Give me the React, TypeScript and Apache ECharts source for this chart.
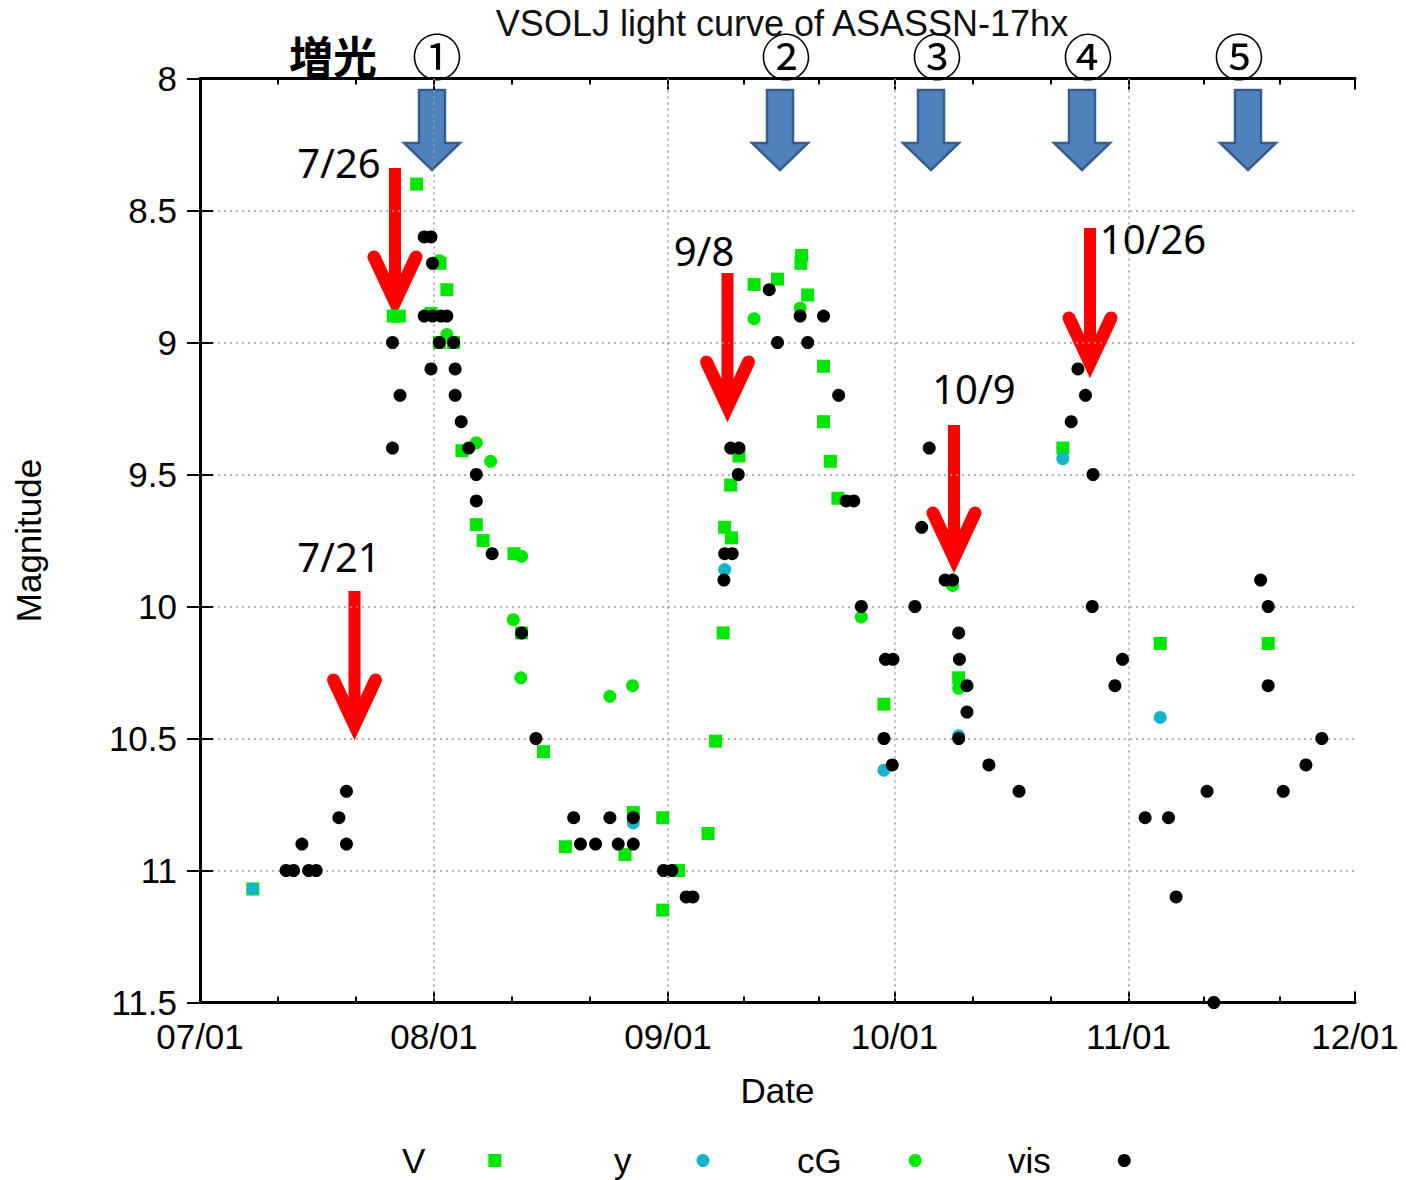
import React, { useEffect, useRef } from 'react';
import * as echarts from 'echarts';

// x values are days since 2017-07-01 00:00, y values are magnitudes
const monthTicks = [0, 31, 62, 92, 123, 153];
const monthLabels = ['07/01', '08/01', '09/01', '10/01', '11/01', '12/01'];
const minorTicks = [10.33, 20.67, 41.33, 51.67, 72, 82, 102.33, 112.67, 133, 143];
const yTicks = [8, 8.5, 9, 9.5, 10, 10.5, 11, 11.5];

const seriesNames = ['V', 'y', 'cG', 'vis'];

const vData: number[][] = [
  [7.0, 11.07], [25.6, 8.9], [26.4, 8.9], [28.7, 8.4], [30.6, 8.89], [31.8, 8.7],
  [32.7, 8.8], [31.7, 9.0], [33.6, 9.0], [34.7, 9.41], [36.6, 9.69], [37.5, 9.75],
  [41.6, 9.8], [42.6, 10.1], [45.5, 10.55], [48.4, 10.91], [56.3, 10.94], [57.4, 10.78],
  [61.3, 10.8], [61.3, 11.15], [63.4, 11.0], [67.3, 10.86], [68.3, 10.51], [69.3, 10.1],
  [69.5, 9.7], [70.4, 9.74], [70.3, 9.54], [71.4, 9.43], [73.4, 8.78], [76.5, 8.76],
  [79.6, 8.7], [79.7, 8.67], [80.5, 8.82], [82.6, 9.09], [82.6, 9.3], [83.5, 9.45],
  [84.5, 9.59], [90.6, 10.37], [100.5, 10.27], [114.3, 9.4], [127.2, 10.14], [141.5, 10.14],
];

const yData: number[][] = [
  [7.0, 11.07], [69.5, 9.86], [57.4, 10.82], [90.6, 10.62], [100.5, 10.49], [114.3, 9.44], [127.2, 10.42],
];

const cgData: number[][] = [
  [31.7, 8.69], [32.7, 8.97], [36.6, 9.38], [38.5, 9.45], [42.6, 9.81], [41.5, 10.05],
  [42.5, 10.27], [54.3, 10.34], [57.3, 10.3], [73.4, 8.91], [79.5, 8.87], [87.6, 10.04],
  [99.7, 9.92], [100.5, 10.31],
];

const visData: number[][] = [
  [11.4, 11.0], [12.4, 11.0], [14.4, 11.0], [15.4, 11.0], [13.5, 10.9], [18.4, 10.8],
  [19.4, 10.7], [19.4, 10.9], [25.5, 9.0], [25.5, 9.4], [26.5, 9.2], [29.7, 8.6],
  [30.6, 8.6], [30.8, 8.7], [29.7, 8.9], [30.8, 8.9], [31.9, 8.9], [32.7, 8.9],
  [31.7, 9.0], [33.6, 9.0], [30.6, 9.1], [33.8, 9.1], [33.8, 9.2], [34.6, 9.3],
  [35.6, 9.4], [36.6, 9.5], [36.6, 9.6], [38.7, 9.8], [42.6, 10.1], [44.5, 10.5],
  [49.5, 10.8], [50.4, 10.9], [52.4, 10.9], [54.3, 10.8], [55.4, 10.9], [57.4, 10.8],
  [57.4, 10.9], [61.4, 11.0], [62.5, 11.0], [64.4, 11.1], [65.3, 11.1], [69.4, 9.9],
  [69.5, 9.8], [70.5, 9.8], [71.3, 9.5], [70.3, 9.4], [71.4, 9.4], [75.4, 8.8],
  [76.5, 9.0], [79.5, 8.9], [80.5, 9.0], [82.6, 8.9], [84.6, 9.2], [85.6, 9.6],
  [86.6, 9.6], [87.6, 10.0], [90.8, 10.2], [91.8, 10.2], [90.6, 10.5], [91.7, 10.6],
  [94.7, 10.0], [95.6, 9.7], [96.6, 9.4], [98.7, 9.9], [99.7, 9.9], [100.5, 10.1],
  [100.6, 10.2], [101.6, 10.3], [101.6, 10.4], [100.5, 10.5], [104.5, 10.6], [108.5, 10.7],
  [115.4, 9.3], [116.3, 9.1], [117.3, 9.2], [118.3, 9.5], [118.2, 10.0], [121.2, 10.3],
  [122.2, 10.2], [125.2, 10.8], [128.3, 10.8], [129.3, 11.1], [133.4, 10.7], [134.3, 11.5],
  [140.5, 9.9], [141.5, 10.0], [141.5, 10.3], [143.5, 10.7], [146.5, 10.6], [148.6, 10.5],
];

// annotations (pixel positions of the overlay drawn on the picture)
const blueArrowX = [432, 780, 931, 1082, 1248];
const circledNums = ['①', '②', '③', '④', '⑤'];
const circledX = [437, 786, 937, 1088, 1239];
const redArrows = [
  { label: '7/26', cx: 395, top: 168, tip: 302, lx: 339, ly: 162 },
  { label: '7/21', cx: 354.5, top: 591, tip: 725, lx: 339, ly: 556 },
  { label: '9/8', cx: 727.5, top: 273, tip: 407, lx: 704, ly: 250 },
  { label: '10/9', cx: 954, top: 425, tip: 558, lx: 974, ly: 388 },
  { label: '10/26', cx: 1090, top: 228, tip: 363, lx: 1153, ly: 238 },
];

const FONT = '"Liberation Sans", Arial, sans-serif';
const GREEN = '#00e600';
const CYAN = '#14b4cc';

export default function App() {
  const ref = useRef<HTMLDivElement>(null);

  useEffect(() => {
    if (!ref.current) return;
    const chart = echarts.init(ref.current, undefined, { renderer: 'svg' });

    const graphics: any[] = [];
    blueArrowX.forEach((cx) => {
      graphics.push({
        type: 'polygon',
        shape: {
          points: [
            [cx - 13, 90], [cx + 13, 90], [cx + 13, 143], [cx + 28, 143],
            [cx, 170], [cx - 28, 143], [cx - 13, 143],
          ],
        },
        style: { fill: '#4f81bd', stroke: '#385d8a', lineWidth: 2.5 },
      });
    });
    circledNums.forEach((t, i) => {
      graphics.push({
        type: 'text',
        x: circledX[i],
        y: 54,
        style: {
          text: t, fontSize: 50, fontFamily: '"Noto Sans CJK JP"', fill: '#000',
          align: 'center', verticalAlign: 'middle',
        },
      });
    });
    graphics.push({
      type: 'text',
      x: 333,
      y: 55,
      style: {
        text: '増光', fontSize: 44, fontWeight: 'bold', fontFamily: '"Noto Sans CJK JP"',
        fill: '#000', align: 'center', verticalAlign: 'middle',
      },
    });
    redArrows.forEach((a) => {
      graphics.push({
        type: 'line',
        shape: { x1: a.cx, y1: a.top, x2: a.cx, y2: a.tip - 8 },
        style: { stroke: '#ff0000', lineWidth: 12 },
      });
      graphics.push({
        type: 'polyline',
        shape: { points: [[a.cx - 21, a.tip - 45], [a.cx, a.tip], [a.cx + 21, a.tip - 45]] },
        style: { stroke: '#ff0000', lineWidth: 13, lineCap: 'round', lineJoin: 'miter', fill: null },
      });
      graphics.push({
        type: 'text',
        x: a.lx,
        y: a.ly,
        style: {
          text: a.label, fontSize: 40, fontFamily: '"Noto Sans"', fill: '#000',
          align: 'center', verticalAlign: 'middle',
        },
      });
    });

    const baseTick = { show: true, inside: true, lineStyle: { color: '#000', width: 2 } };
    const xCommon = { type: 'value', min: 0, max: 153, splitLine: { show: false } };
    const yCommon = {
      type: 'value', min: 8, max: 11.5, interval: 0.5, inverse: true,
    };

    const legendGaps = [58, 60, 62, 62];
    const legendLeft = [402, 614, 797, 1008];

    const option: any = {
      animation: false,
      backgroundColor: '#fff',
      title: {
        text: 'VSOLJ light curve of ASASSN-17hx',
        left: 777,
        textAlign: 'center',
        top: 0,
        textStyle: { fontSize: 36, fontWeight: 'normal', fontFamily: FONT, color: '#111' },
      },
      legend: seriesNames.map((n, i) => ({
        data: [n],
        left: legendLeft[i],
        top: 1143,
        align: 'right',
        padding: 0,
        itemWidth: 13,
        itemHeight: 13,
        selectedMode: false,
        textStyle: { fontSize: 35, fontFamily: FONT, color: '#000', padding: [0, legendGaps[i], 0, 0] },
      })),
      grid: { left: 200, right: 51, top: 78.5, bottom: 177.5, containLabel: false },
      xAxis: [
        {
          ...xCommon,
          position: 'bottom',
          name: 'Date',
          nameLocation: 'middle',
          nameGap: 70,
          nameTextStyle: { fontSize: 35, fontFamily: FONT, color: '#000' },
          axisLine: { show: true, lineStyle: { color: '#000', width: 3 } },
          axisTick: { ...baseTick, length: 11, customValues: monthTicks },
          axisLabel: {
            customValues: monthTicks,
            formatter: (v: number) => monthLabels[monthTicks.indexOf(Math.round(v))] ?? '',
            fontSize: 35, fontFamily: FONT, color: '#000', margin: 16,
          },
        },
        {
          ...xCommon,
          position: 'bottom',
          axisLine: { show: false },
          axisTick: { ...baseTick, length: 6, customValues: minorTicks },
          axisLabel: { show: false },
        },
        {
          ...xCommon,
          position: 'top',
          axisLine: { show: true, lineStyle: { color: '#000', width: 3 } },
          axisTick: { ...baseTick, length: 11, customValues: monthTicks },
          axisLabel: { show: false },
        },
        {
          ...xCommon,
          position: 'top',
          axisLine: { show: false },
          axisTick: { ...baseTick, length: 6, customValues: minorTicks },
          axisLabel: { show: false },
        },
      ],
      yAxis: [
        {
          ...yCommon,
          position: 'left',
          name: 'Magnitude',
          nameLocation: 'middle',
          nameGap: 154,
          nameTextStyle: { fontSize: 35, fontFamily: FONT, color: '#000' },
          axisLine: { show: true, lineStyle: { color: '#000', width: 3 } },
          axisTick: { ...baseTick, length: 13 },
          axisLabel: {
            fontSize: 35, fontFamily: FONT, color: '#000', margin: 23,
            formatter: (v: number) => (yTicks.includes(v) ? String(v) : ''),
          },
          splitLine: { show: true, lineStyle: { color: '#999', width: 1.5, type: [2, 4] } },
        },
        {
          ...yCommon,
          position: 'right',
          axisLine: { show: true, lineStyle: { color: '#000', width: 3 } },
          axisTick: { ...baseTick, length: 13 },
          axisLabel: { show: false },
          splitLine: { show: false },
        },
      ],
      graphic: graphics,
      series: [
        {
          name: 'V', type: 'scatter', symbol: 'rect', symbolSize: 13,
          itemStyle: { color: GREEN, opacity: 1 }, data: vData,
          markLine: {
            silent: true, z: 1, symbol: ['none', 'none'], label: { show: false },
            lineStyle: { color: '#999', width: 1.5, type: [2, 4] },
            data: monthTicks.slice(1, -1).map((d) => ({ xAxis: d })),
          },
        },
        { name: 'y', type: 'scatter', symbol: 'circle', symbolSize: 13, itemStyle: { color: CYAN, opacity: 1 }, data: yData },
        { name: 'cG', type: 'scatter', symbol: 'circle', symbolSize: 13, itemStyle: { color: GREEN, opacity: 1 }, data: cgData },
        { name: 'vis', type: 'scatter', symbol: 'circle', symbolSize: 13, itemStyle: { color: '#000', opacity: 1 }, data: visData },
      ],
    };

    chart.setOption(option);
    return () => chart.dispose();
  }, []);

  return (
    <div
      ref={ref}
      style={{ position: 'absolute', left: 0, top: 0, width: 1406, height: 1180, background: '#fff' }}
    />
  );
}
